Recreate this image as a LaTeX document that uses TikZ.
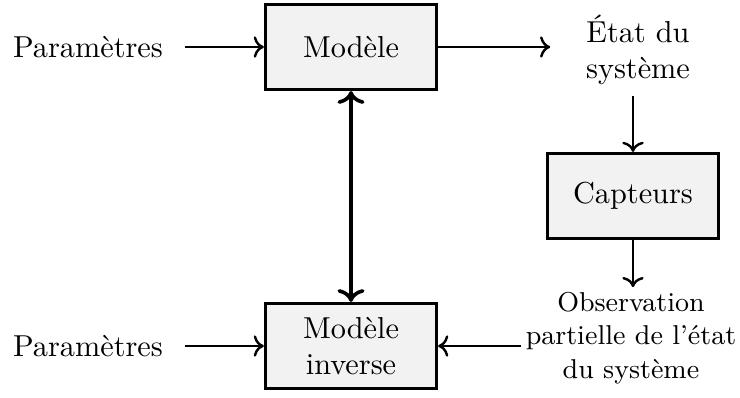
\documentclass[tikz,border=0pt]{standalone}
\usetikzlibrary{arrows.meta}
\begin{document}
\begin{tikzpicture}[x=0.33pt,y=-0.33pt,
  blockbox/.style={draw,line width=1.1pt,fill=black!5,minimum width=56.4pt,minimum height=28pt,inner sep=0pt,align=center},
  lab/.style={align=center,inner sep=3.33pt},
  conn/.style={->,line width=0.8pt},
  bold/.style={<->,line width=1.2pt}]
\useasboundingbox (0,0) rectangle (740,398);
\node[blockbox] (m) at (351,47) {Modèle};
\node[blockbox] (inv) at (351,346) {Modèle\\inverse};
\node[blockbox] (cap) at (633,196) {Capteurs};
\node[lab,inner xsep=7pt] (p1) at (88,47) {Paramètres};
\node[lab,inner xsep=7pt] (p2) at (88,346) {Paramètres};
\node[lab] (etat) at (638,50) {État du\\système};
\node[lab,inner sep=1.5pt,font=\small] (obs) at (631,338) {Observation\\partielle de l’état\\du système};
\draw[conn] (p1.east) -- (m.west);
\draw[conn] (p2.east) -- (inv.west);
\draw[conn,shorten >=8.3pt] (m.east) -- (m.east -| etat.west);
\draw[conn] (etat.south -| cap.north) -- (cap.north);
\draw[conn] (cap.south) -- (cap.south |- obs.north);
\draw[conn] (obs.west |- inv.east) -- (inv.east);
\draw[bold] (m.south) -- (inv.north);
\end{tikzpicture}
\end{document}
